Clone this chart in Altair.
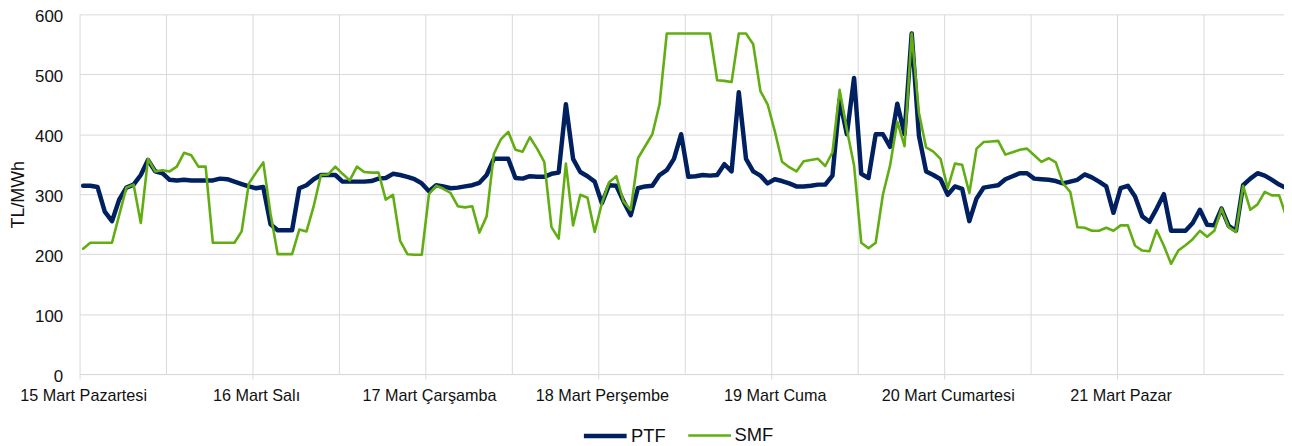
import json
import altair as alt
import pandas as pd

day_labels = ["15 Mart Pazartesi", "16 Mart Salı", "17 Mart Çarşamba", "18 Mart Perşembe",
              "19 Mart Cuma", "20 Mart Cumartesi", "21 Mart Pazar"]

ptf = [314, 314, 312, 271, 255, 291, 311, 316, 332, 357, 338, 335, 324, 323, 324, 323, 323, 323, 323, 326, 325, 321, 317, 313,
       310, 312, 250, 240, 240, 240, 310, 315, 325, 332, 332, 332, 321, 321, 321, 321, 322, 326, 327, 334, 332, 329, 325, 318,
       305, 315, 313, 310, 311, 313, 315, 319, 332, 359, 359, 359, 327, 326, 330, 329, 329, 334, 336, 450, 359, 337, 330, 321,
       285, 315, 314, 288, 265, 310, 313, 314, 332, 340, 359, 400, 329, 330, 332, 331, 332, 350, 338, 470, 359, 338, 331, 318,
       325, 322, 318, 313, 313, 314, 316, 316, 331, 458, 400, 494, 334, 327, 400, 400, 379, 451, 400, 568, 398, 338, 332, 325,
       299, 313, 309, 255, 293, 311, 313, 315, 325, 330, 335, 335, 326, 325, 324, 322, 318, 321, 324, 333, 328, 321, 313, 269,
       310, 314, 296, 263, 254, 276, 300, 239, 239, 239, 252, 274, 249, 248, 276, 247, 239, 315, 326, 335, 331, 324, 316, 310]

smf = [209, 219, 219, 219, 219, 265, 311, 316, 252, 359, 338, 340, 338, 346, 369, 365, 346, 346, 219, 219, 219, 219, 238, 318,
       336, 353, 268, 200, 200, 200, 241, 238, 280, 332, 333, 346, 334, 323, 346, 337, 336, 336, 291, 299, 222, 200, 199, 199,
       300, 314, 309, 302, 280, 278, 280, 236, 263, 367, 392, 404, 374, 371, 395, 376, 354, 245, 226, 351, 248, 299, 294, 237,
       285, 320, 330, 288, 274, 360, 380, 400, 450, 568, 568, 568, 568, 568, 568, 568, 490, 489, 487, 568, 568, 550, 472, 450,
       405, 354, 345, 338, 355, 357, 359, 347, 370, 474, 408, 348, 219, 210, 219, 299, 348, 421, 380, 568, 436, 378, 371, 359,
       310, 351, 349, 302, 376, 387, 388, 389, 366, 370, 374, 376, 365, 354, 360, 353, 318, 304, 245, 244, 239, 239, 244, 239,
       248, 248, 214, 206, 205, 240, 214, 184, 206, 215, 225, 239, 229, 239, 276, 245, 237, 314, 274, 283, 304, 298, 298, 262]

series_names = ["PTF", "SMF"]
series_colors = ["#002060", "#62AE12"]
series_widths = [4.5, 2.6]

hours = list(range(len(ptf)))
df = pd.DataFrame({
    "hour": hours + hours,
    "value": ptf + smf,
    "series": [series_names[0]] * len(ptf) + [series_names[1]] * len(smf),
})

FONT = "Liberation Sans"
GRID = "#D9D9D9"
TEXT = "#111111"

plot_w = 1212
plot_h = 362
px_per_hour = 7.25
x_max = -0.5 + plot_w / px_per_hour

x_grid = [-0.5 + 12 * k for k in range(14)]
y_ticks = [0, 100, 200, 300, 400, 500, 600]

label_expr = ("(datum.value + 0.5) % 24 == 0 ? " + json.dumps(day_labels, ensure_ascii=False)
              + "[(datum.value + 0.5) / 24] : ''")

x_axis = alt.Axis(
    values=x_grid, title=None, labelExpr=label_expr, labelFlush=False, labelOverlap=False,
    labelBound=False, labelFont=FONT, labelFontSize=16.3, labelColor=TEXT, labelPadding=9,
    labelOffset=3.6, grid=True, gridColor=GRID, gridWidth=1, domainColor=GRID, domainWidth=1,
    ticks=True, tickSize=5, tickColor=GRID, tickWidth=1,
    tickOpacity={"condition": {"test": "(datum.value + 0.5) % 24 == 0", "value": 1}, "value": 0},
)
y_axis = alt.Axis(
    values=y_ticks, title="TL/MWh", grid=True, gridColor=GRID, gridWidth=1, domain=False,
    ticks=False, tickSize=0, labelFont=FONT, labelFontSize=17, labelColor=TEXT, labelPadding=17,
    labelOffset=2.5, titleFont=FONT, titleFontSize=18, titleFontWeight="normal", titleColor=TEXT,
    titleAngle=270, titleBaseline="middle", titleAlign="center", titleX=-61, titleY=plot_h / 2,
)

legend = alt.Legend(
    title=None, orient="none", legendX=505, legendY=400, direction="horizontal",
    symbolType="stroke", symbolSize=1849, labelFont=FONT, labelFontSize=18.5, labelColor=TEXT,
    labelOffset=2, columnPadding=17, padding=0,
)

base = alt.Chart(df).encode(
    x=alt.X("hour:Q", scale=alt.Scale(domain=[-0.5, x_max], nice=False, zero=False), axis=x_axis),
    y=alt.Y("value:Q", scale=alt.Scale(domain=[0, 600], nice=False, zero=True), axis=y_axis),
    color=alt.Color("series:N", scale=alt.Scale(domain=series_names, range=series_colors), legend=legend),
    strokeWidth=alt.StrokeWidth("series:N", scale=alt.Scale(domain=series_names, range=series_widths),
                                legend=legend),
)

ptf_line = base.transform_filter(alt.datum.series == "PTF").mark_line(strokeJoin="round", strokeCap="round")
smf_line = base.transform_filter(alt.datum.series == "SMF").mark_line(strokeJoin="round", strokeCap="round")

chart = alt.layer(ptf_line, smf_line).properties(
    width=plot_w, height=plot_h,
    autosize=alt.AutoSizeParams(type="none"),
    padding={"left": 72, "top": 5, "right": 0, "bottom": 71},
    background="white",
).configure_view(stroke=None)

chart.save("out.html", embed_options={"renderer": "svg", "actions": False})
